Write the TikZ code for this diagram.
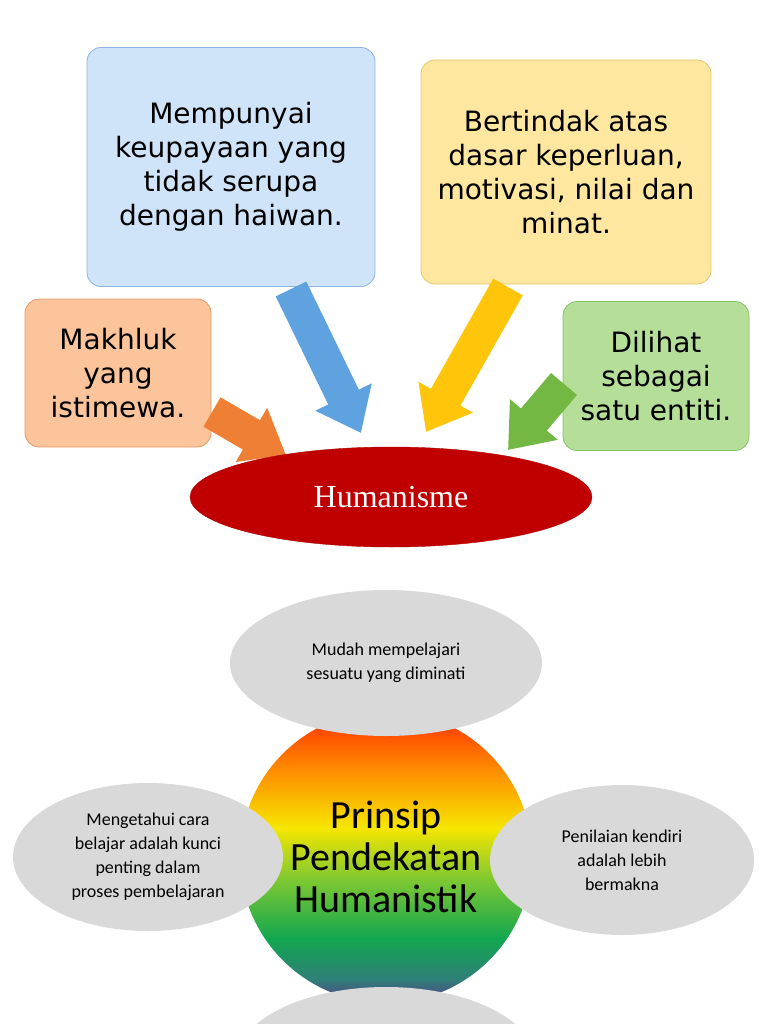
\documentclass[tikz,border=0pt]{standalone}
\usepackage{fontspec}
\setmainfont{DejaVu Sans}
\newfontfamily\calib{Carlito}
\newfontfamily\serifx{Liberation Serif}
\usetikzlibrary{arrows.meta,shapes.geometric}
\definecolor{bxblue}{HTML}{CFE3F9}\definecolor{lnblue}{HTML}{8FB4E3}
\definecolor{bxyel}{HTML}{FFE79F}\definecolor{lnyel}{HTML}{E8C76A}
\definecolor{bxor}{HTML}{FBC49A}\definecolor{lnor}{HTML}{E59A66}
\definecolor{bxgr}{HTML}{B5DE99}\definecolor{lngr}{HTML}{86BF6B}
\definecolor{arblue}{HTML}{5FA2E0}\definecolor{aryel}{HTML}{FFC50A}
\definecolor{aror}{HTML}{F07F36}\definecolor{argr}{HTML}{72B843}
\definecolor{redx}{HTML}{C00000}\definecolor{grayx}{HTML}{D9D9D9}
\definecolor{rbpur}{HTML}{5B3A8C}\definecolor{rbteal}{HTML}{2F7F78}
\definecolor{rbgreen}{HTML}{12A650}\definecolor{rblg}{HTML}{7CC832}
\definecolor{rbyel}{HTML}{F6E600}\definecolor{rbor}{HTML}{FF8C00}
\definecolor{rbred}{HTML}{FF2A00}
\pgfdeclareverticalshading{rainbowx}{100bp}{
 color(0bp)=(rbpur);color(25bp)=(rbpur);color(29bp)=(rbteal);color(36bp)=(rbgreen);color(46bp)=(rblg);
 color(55bp)=(rbyel);color(65bp)=(rbor);color(75bp)=(rbred);color(100bp)=(rbred)}
\tikzset{
 bx/.style={rounded corners=14pt,draw,line width=0.8pt,align=center,font=\fontsize{28}{34}\selectfont},
 blockarr/.style={line width=34pt,-{Triangle[width=60pt,length=40pt]}},
 gel/.style={ellipse,fill=grayx,align=center,font=\calib\fontsize{18}{24}\selectfont}
}
\begin{document}
\begin{tikzpicture}[x=1pt,y=-1pt]
\useasboundingbox (0,0) rectangle (768,1024);
\clip (0,0) rectangle (768,1024);
% boxes
\node[bx,fill=bxblue,draw=lnblue,minimum width=288pt,minimum height=239pt] (b1) at (231,167) {Mempunyai\\keupayaan yang\\tidak serupa\\dengan haiwan.};
\node[bx,fill=bxyel,draw=lnyel,minimum width=290pt,minimum height=224pt] (b2) at (566,172) {Bertindak atas\\dasar keperluan,\\motivasi, nilai dan\\minat.};
\node[bx,fill=bxor,draw=lnor,minimum width=186pt,minimum height=148pt] (b3) at (118,373) {Makhluk\\yang\\istimewa.};
\node[bx,fill=bxgr,draw=lngr,minimum width=186pt,minimum height=149pt] (b4) at (656,376) {Dilihat\\sebagai\\satu entiti.};
% arrows
\coordinate (s1) at (291,289); \coordinate (t1) at (361,433);
\coordinate (s2) at (508,287); \coordinate (t2) at (426,432);
\coordinate (s3) at (212,412); \coordinate (t3) at (286,455);
\coordinate (s4) at (564,384); \coordinate (t4) at (508,450);
\draw[blockarr,arblue] (s1) -- (t1);
\draw[blockarr,aryel] (s2) -- (t2);
\draw[blockarr,aror] (s3) -- (t3);
\draw[blockarr,argr] (s4) -- (t4);
% humanisme
\node[ellipse,fill=redx,draw=red!70!black,minimum width=402pt,minimum height=100pt,text=white,font=\serifx\fontsize{32}{34}\selectfont] (h) at (391,497) {Humanisme};
% bottom
\shade[shading=rainbowx] (386,857) circle (146);
\node[gel,minimum width=312pt,minimum height=146pt] (e1) at (386,663) {Mudah mempelajari\\sesuatu yang diminati};
\node[gel,minimum width=270pt,minimum height=148pt] (e2) at (148,857) {Mengetahui cara\\belajar adalah kunci\\penting dalam\\proses pembelajaran};
\node[gel,minimum width=264pt,minimum height=150pt] (e3) at (622,860) {Penilaian kendiri\\adalah lebih\\bermakna};
\node[gel,minimum width=300pt,minimum height=150pt] (e4) at (386,1062) {};
\node[font=\calib\fontsize{40}{42}\selectfont,align=center] (c) at (386,857) {Prinsip\\Pendekatan\\Humanistik};
\end{tikzpicture}
\end{document}
